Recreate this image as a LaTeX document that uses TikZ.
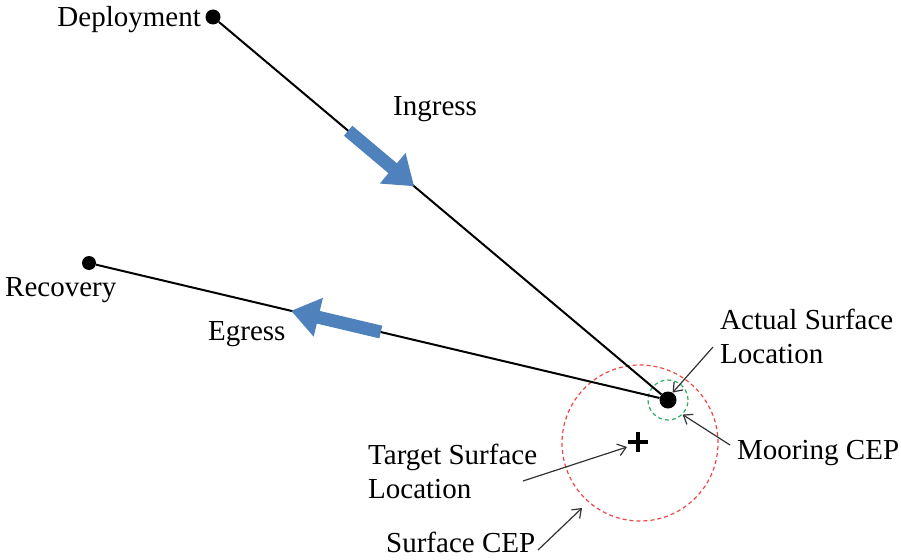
\documentclass[tikz,border=0pt]{standalone}
\usepackage{fontspec}
\setmainfont{Liberation Serif}
\usetikzlibrary{arrows.meta,calc}
\definecolor{flowblue}{RGB}{79,129,189}
\definecolor{cepred}{RGB}{240,70,70}
\definecolor{cepgreen}{RGB}{50,170,100}
\definecolor{pointgray}{RGB}{50,50,50}
\begin{document}
\begin{tikzpicture}[x=1pt,y=-1pt,
  lbl/.style={font=\fontsize{29}{34}\selectfont, inner sep=0pt},
  waypt/.style={circle, fill=black, inner sep=0pt, minimum size=15pt},
  track/.style={line width=2pt, black},
  flow/.style={line width=13pt, flowblue, -{Triangle[length=28pt,width=38pt]}},
  cep/.style={circle, inner sep=0pt, dash pattern=on 4pt off 3pt, line width=1.2pt},
  ptr/.style={pointgray, line width=1.2pt, -{Straight Barb[length=8pt,width=12pt]}}]
\useasboundingbox (0,0) rectangle (901,559);

% circular error probable rings
\node[cep, draw=cepred, minimum size=156pt] (surf) at (640,443) {};
\node[cep, draw=cepgreen, minimum size=40pt] (moor) at (668,400) {};

% way points
\node[waypt] (dep) at (213,17) {};
\node[waypt, minimum size=14pt] (rec) at (89,263) {};
\node[waypt, minimum size=17pt] (act) at (668,400) {};

% target surface location
\coordinate (tgt) at (638,442);
\draw[line width=3.4pt] (tgt) +(-10,0) -- +(10,0) (tgt) +(0,-10) -- +(0,10);

% ingress and egress tracks
\draw[track] (dep) -- (act);
\draw[track] (rec) -- (act);
\draw[flow] ($(dep)!0.297!(act)$) -- ($(dep)!0.442!(act)$);
\draw[flow] ($(rec)!0.504!(act)$) -- ($(rec)!0.349!(act)$);

% labels
\node[lbl, anchor=base east] (deplbl) at (201,27) {Deployment};
\node[lbl, anchor=base west] (reclbl) at (5,296) {Recovery};
\node[lbl, anchor=base west] (inglbl) at (393,115) {Ingress};
\node[lbl, anchor=base west] (eglbl) at (208,340) {Egress};
\node[lbl, anchor=base west] (moorlbl) at (737,459) {Mooring CEP};
\node[lbl, anchor=base west] (surflbl) at (386,552) {Surface CEP};
\node[lbl, align=left, anchor=north west] (actlbl) at (720,309) {Actual Surface\\Location};
\node[lbl, align=left, anchor=north west] (tgtlbl) at (368,444) {Target Surface\\Location};

% pointers from labels
\coordinate (actfrom) at (713,347);
\coordinate (moorfrom) at (730,445);
\coordinate (tgtfrom) at (523,481);
\coordinate (tgtto) at (627,447);
\coordinate (surffrom) at (538,550);
\coordinate (surfto) at (582,508);
\draw[ptr] (actfrom) -- (act.58);
\draw[ptr] (moorfrom) -- (moor.-45);
\draw[ptr] (tgtfrom) -- (tgtto);
\draw[ptr] (surffrom) -- (surfto);
\end{tikzpicture}
\end{document}
